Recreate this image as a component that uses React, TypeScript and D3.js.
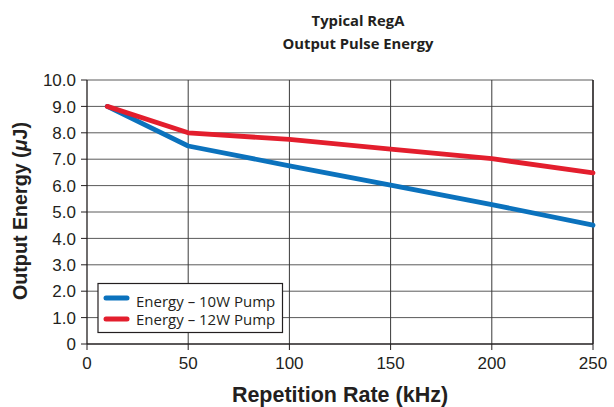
import React from 'react';
import * as d3 from 'd3';

const rates = [10, 50, 100, 150, 200, 250];
const energy10W = [9.0, 7.5, 6.75, 6.02, 5.28, 4.5];
const energy12W = [9.0, 8.0, 7.75, 7.38, 7.02, 6.48];
const seriesNames = ['Energy \u2013 10W Pump', 'Energy \u2013 12W Pump'];
const seriesColors = ['#0b72bd', '#e31e2d'];
const xTicks = [0, 50, 100, 150, 200, 250];
const yTicks = [0, 1, 2, 3, 4, 5, 6, 7, 8, 9, 10];

const width = 614;
const height = 407;
const margin = { top: 80, right: 21, bottom: 63, left: 87 };

const App = () => {
  const x = d3.scaleLinear().domain([0, 250]).range([margin.left, width - margin.right]);
  const y = d3.scaleLinear().domain([0, 10]).range([height - margin.bottom, margin.top]);
  const line = d3.line<number>()
    .x((_, i) => x(rates[i]))
    .y(d => y(d));
  const series = [energy10W, energy12W];
  const sans = 'Liberation Sans, Arial, sans-serif';
  const myriad = '"Open Sans", "Noto Sans", sans-serif';

  return (
    <svg width={width} height={height} style={{ position: 'absolute', left: 0, top: 0, background: '#fff' }}>
      <text x={358} y={26} textAnchor="middle" fontFamily={myriad} fontWeight={700} fontSize={14.8} fill="#231f20">Typical RegA</text>
      <text x={358} y={49} textAnchor="middle" fontFamily={myriad} fontWeight={700} fontSize={14.8} fill="#231f20">Output Pulse Energy</text>

      {/* grid */}
      {yTicks.slice(1).map(t => (
        <line key={'gy' + t} x1={x(0)} x2={x(250)} y1={y(t)} y2={y(t)} stroke="#5a5a5a" strokeWidth={1} />
      ))}
      {xTicks.slice(1, -1).map(t => (
        <line key={'gx' + t} x1={x(t)} x2={x(t)} y1={y(0)} y2={y(10)} stroke="#3a3a3a" strokeWidth={1} />
      ))}
      <line x1={x(250)} x2={x(250)} y1={y(0)} y2={y(10)} stroke="#231f20" strokeWidth={1.6} />
      <line x1={x(0)} x2={x(0)} y1={y(0)} y2={y(10)} stroke="#231f20" strokeWidth={1.3} />
      <line x1={x(0)} x2={x(250)} y1={y(0)} y2={y(0)} stroke="#231f20" strokeWidth={1.3} />

      {/* ticks */}
      {yTicks.map(t => (
        <g key={'ty' + t}>
          <line x1={x(0) - 6} x2={x(0)} y1={y(t)} y2={y(t)} stroke="#231f20" strokeWidth={1} />
          <text x={x(0) - 11} y={y(t)} dy="0.36em" textAnchor="end" fontFamily={sans} fontSize={17} fill="#231f20">
            {t === 0 ? '0' : d3.format('.1f')(t)}
          </text>
        </g>
      ))}
      {xTicks.map(t => (
        <g key={'tx' + t}>
          <line x1={x(t)} x2={x(t)} y1={y(0)} y2={y(0) + 6} stroke="#231f20" strokeWidth={1} />
          <text x={x(t)} y={y(0) + 24.5} textAnchor="middle" fontFamily={sans} fontSize={17} fill="#231f20">{t}</text>
        </g>
      ))}

      {/* series */}
      {series.map((s, i) => (
        <path key={'s' + i} d={line(s) || ''} fill="none" stroke={seriesColors[i]} strokeWidth={4.8} strokeLinejoin="round" strokeLinecap="round" />
      ))}

      {/* legend */}
      <rect x={98} y={283.5} width={184.5} height={49} fill="#fff" stroke="#231f20" strokeWidth={1.2} />
      {seriesNames.map((n, i) => (
        <g key={'l' + i}>
          <line x1={106} x2={127} y1={298 + i * 21} y2={298 + i * 21} stroke={seriesColors[i]} strokeWidth={5} strokeLinecap="round" />
          <text x={136} y={306.5 + i * 18} fontFamily={myriad} fontSize={15} fill="#231f20">{n}</text>
        </g>
      ))}

      {/* axis titles */}
      <text x={340} y={402} textAnchor="middle" fontFamily={sans} fontWeight={700} fontSize={21.5} fill="#231f20">Repetition Rate (kHz)</text>
      <text transform={`translate(27,211) rotate(-90)`} textAnchor="middle" fontFamily={sans} fontWeight={700} fontSize={20} textLength={178} lengthAdjust="spacingAndGlyphs" fill="#231f20">Output Energy (<tspan fontStyle="italic">&#956;</tspan>J)</text>
    </svg>
  );
};

export default App;
